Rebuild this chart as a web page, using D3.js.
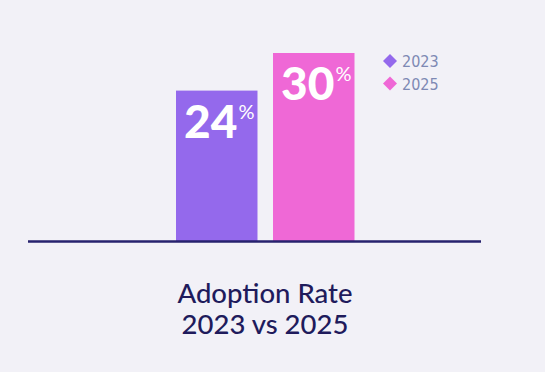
<!DOCTYPE html>
<html><head><meta charset="utf-8">
<script src="https://cdn.jsdelivr.net/npm/d3@7"></script>
<style>html,body{margin:0;padding:0;background:#f2f1f7;}svg{display:block;}</style>
</head><body>
<svg id="c" width="545" height="372"></svg>
<script>
const categories = ["2023", "2025"];
const values = [24, 30];
const colors = ["#9469ec", "#ef68d6"];
const titleLines = ["Adoption Rate", "2023 vs 2025"];

const svg = d3.select("#c");
svg.append("rect").attr("width",545).attr("height",372).attr("fill","#f2f1f7");

const x = d3.scaleBand().domain(categories).range([176, 354.5]).paddingInner(0.16);
const y = d3.scaleLinear().domain([0, 30]).range([241, 53]);

svg.selectAll("rect.bar").data(categories).join("rect")
  .attr("class","bar")
  .attr("x", d => x(d)).attr("width", x.bandwidth())
  .attr("y", (d,i) => y(values[i])).attr("height", (d,i) => y(0) - y(values[i]))
  .attr("fill", (d,i) => colors[i]);

const lbl = svg.selectAll("text.val").data(categories).join("text")
  .attr("class","val")
  .attr("x", d => x(d) + 8)
  .attr("y", (d,i) => y(values[i]) + 47)
  .attr("fill","#fff")
  .attr("font-family","Lato, 'Open Sans', sans-serif")
  .attr("font-weight", 900)
  .attr("font-size", 46);
lbl.append("tspan").text((d,i) => values[i]);
lbl.append("tspan").text("%").attr("font-size", 20).attr("font-weight", 400).attr("dx", 1).attr("dy", -19);

svg.append("line").attr("x1",28).attr("x2",481).attr("y1",y(0)+0.5).attr("y2",y(0)+0.5)
  .attr("stroke","#27226e").attr("stroke-width",2.5);

const leg = svg.selectAll("g.leg").data(categories).join("g")
  .attr("class","leg")
  .attr("transform",(d,i)=>`translate(390,${61 + i*22.5})`);
leg.append("path").attr("d", d3.symbol(d3.symbolDiamond2, 125)())
  .attr("fill",(d,i)=>colors[i]);
leg.append("text").attr("x",12).attr("y",6).text(d=>d)
  .attr("fill","#7e89b4")
  .attr("font-family","'Liberation Sans Narrow', 'DejaVu Sans Condensed', sans-serif")
  .attr("font-size",16);

svg.selectAll("text.title").data(titleLines).join("text")
  .attr("class","title")
  .attr("x", 265).attr("y",(d,i)=>303 + i*31)
  .attr("text-anchor","middle")
  .attr("fill","#1f1b5c")
  .attr("font-family","Lato, 'Open Sans', sans-serif")
  .attr("font-weight",500)
  .attr("font-size",27.5)
  .text(d=>d);
</script>
</body></html>
